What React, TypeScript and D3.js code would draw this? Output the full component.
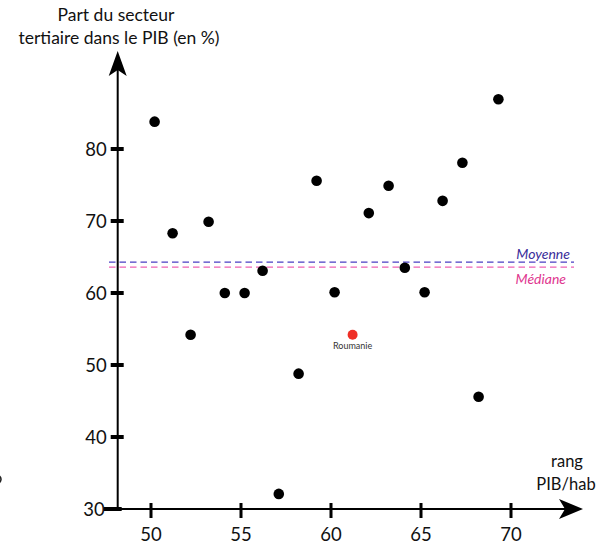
import React from "react";
import * as d3 from "d3";

const ranks = [50.2, 51.2, 52.2, 53.2, 54.1, 55.2, 56.2, 57.1, 58.2, 59.2, 60.2, 62.1, 63.2, 64.1, 65.2, 66.2, 67.3, 68.2, 69.3];
const tertiaryShare = [83.8, 68.3, 54.2, 69.9, 60.0, 60.0, 63.1, 32.1, 48.8, 75.6, 60.1, 71.1, 74.9, 63.5, 60.1, 72.8, 78.1, 45.6, 86.9];
const highlightName = "Roumanie";
const highlightRank = 61.2;
const highlightShare = 54.2;
const meanShare = 64.3;
const medianShare = 63.6;
const xTicks = [50, 55, 60, 65, 70];
const yTicks = [30, 40, 50, 60, 70, 80];

const FONT = "Lato, 'Open Sans', sans-serif";

export default function App() {
  const W = 609, H = 548;
  const x = d3.scaleLinear().domain([50, 70]).range([151, 511]);
  const y = d3.scaleLinear().domain([30, 80]).range([509, 149]);
  const axisX0 = x(48.15);
  const axisY0 = y(30);
  const xEnd = x(74);
  const yTop = y(93.6);

  const points = ranks.map((r, i) => ({ r, v: tertiaryShare[i] }));

  // notched arrow heads
  const upArrow = (cx: number, tip: number) =>
    `M${cx},${tip} L${cx + 9},${tip + 25} L${cx},${tip + 19} L${cx - 9},${tip + 25} Z`;
  const rightArrow = (tip: number, cy: number) =>
    `M${tip},${cy} L${tip - 24},${cy - 10} L${tip - 18},${cy} L${tip - 24},${cy + 10} Z`;

  return (
    <svg
      width={W}
      height={H}
      viewBox={`0 0 ${W} ${H}`}
      style={{ position: "absolute", left: 0, top: 0, background: "#fff" }}
    >
      <rect x={0} y={0} width={W} height={H} fill="#fff" />
      {/* title */}
      <text x={116} y={21} textAnchor="middle" fontFamily={FONT} fontSize={17.5} fill="#111">
        Part du secteur
      </text>
      <text x={119} y={44} textAnchor="middle" fontFamily={FONT} fontSize={17.5} fill="#111">
        tertiaire dans le PIB (en %)
      </text>
      {/* x axis title */}
      <text x={567} y={467} textAnchor="middle" fontFamily={FONT} fontSize={16.5} fill="#111">
        rang
      </text>
      <text x={566} y={490} textAnchor="middle" fontFamily={FONT} fontSize={16.5} fill="#111">
        PIB/hab
      </text>
      {/* stray mark at left edge */}
      <path d="M-2,475 Q4,479 -2,484" fill="none" stroke="#222" strokeWidth={1.6} />

      {/* mean / median lines */}
      <line x1={109} x2={574} y1={y(meanShare)} y2={y(meanShare)} stroke="#4a3fc4" strokeWidth={1.2} strokeDasharray="6.5,4" />
      <line x1={109} x2={574} y1={y(medianShare)} y2={y(medianShare)} stroke="#f062b2" strokeWidth={1.4} strokeDasharray="6.5,4" />
      <text x={570} y={259} textAnchor="end" fontFamily={FONT} fontStyle="italic" fontSize={14} fill="#3a2d9a">
        Moyenne
      </text>
      <text x={566} y={284} textAnchor="end" fontFamily={FONT} fontStyle="italic" fontSize={14} fill="#e0368f">
        Médiane
      </text>

      {/* axes */}
      <line x1={axisX0} x2={axisX0} y1={axisY0} y2={yTop + 15} stroke="#000" strokeWidth={2} />
      <path d={upArrow(axisX0, yTop)} fill="#000" />
      <line x1={axisX0} x2={xEnd - 15} y1={axisY0} y2={axisY0} stroke="#000" strokeWidth={2} />
      <path d={rightArrow(xEnd, axisY0)} fill="#000" />

      {/* y ticks */}
      {yTicks.map((t) => (
        <g key={`y${t}`}>
          <rect
            x={t === 30 ? axisX0 - 14 : axisX0 - 7}
            y={y(t) - 2}
            width={t === 30 ? 18 : 13}
            height={4}
            fill="#000"
          />
          <text
            x={t === 30 ? axisX0 - 13 : axisX0 - 11}
            y={y(t) + 6.5}
            textAnchor="end"
            fontFamily={FONT}
            fontSize={18.5}
            fill="#111"
          >
            {t}
          </text>
        </g>
      ))}

      {/* x ticks */}
      {xTicks.map((t) => (
        <g key={`x${t}`}>
          <rect x={x(t) - 1.5} y={axisY0 - 6} width={3} height={15} fill="#000" />
          <text x={x(t)} y={541} textAnchor="middle" fontFamily={FONT} fontSize={18.5} fill="#111">
            {t}
          </text>
        </g>
      ))}

      {/* points */}
      {points.map((p, i) => (
        <circle key={i} cx={x(p.r)} cy={y(p.v)} r={5.3} fill="#000" />
      ))}
      <circle cx={x(highlightRank)} cy={y(highlightShare)} r={5} fill="#ef2f26" />
      <text
        x={x(highlightRank)}
        y={y(highlightShare) + 14}
        textAnchor="middle"
        fontFamily={FONT}
        fontSize={9}
        fill="#333"
      >
        {highlightName}
      </text>
    </svg>
  );
}
